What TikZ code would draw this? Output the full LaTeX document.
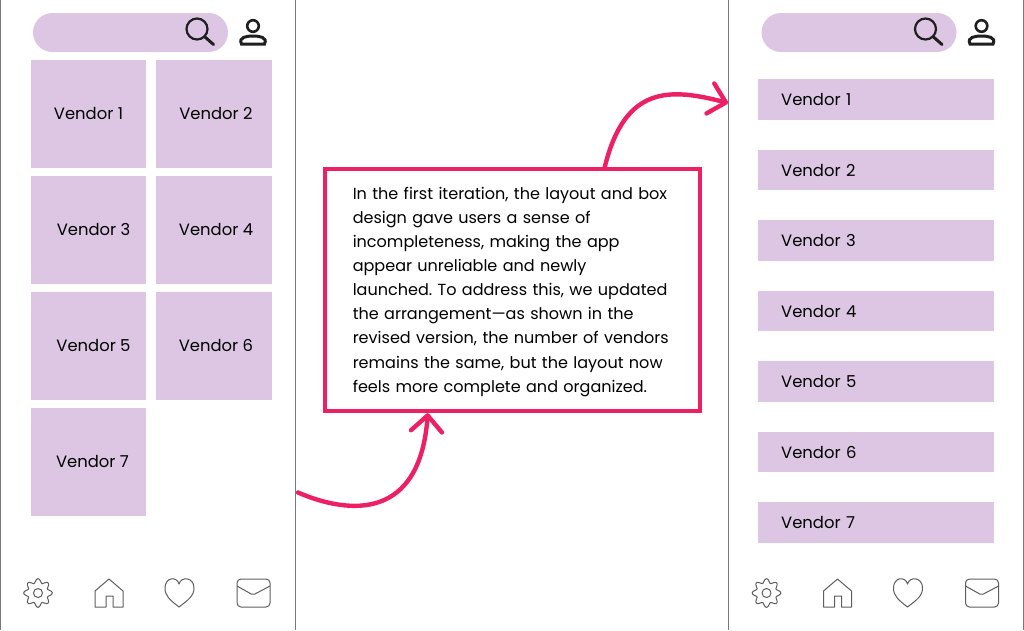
\documentclass[tikz,border=0pt]{standalone}
\usepackage{fontspec}
\setmainfont{Poppins}
\usetikzlibrary{arrows.meta}
\frenchspacing

\definecolor{lilac}{HTML}{DCC6E3}
\definecolor{hotpink}{HTML}{EE2064}
\definecolor{inkdark}{HTML}{1F1F1F}
\definecolor{framegrey}{HTML}{7A7A7A}
\definecolor{icongrey}{HTML}{5E5E5E}

\tikzset{
    tile/.style={fill=lilac, minimum width=115.5, minimum height=108, inner sep=0, font=\fontsize{16.4}{20}\selectfont},
    rowbox/.style={fill=lilac, anchor=west, minimum height=40.5, text width=190, inner xsep=23, inner ysep=0, font=\fontsize{16.4}{20}\selectfont, align=left},
    searchbar/.style={fill=lilac, rounded corners=19.5, minimum width=195, minimum height=39, inner sep=0},
    msgbox/.style={draw=hotpink, line width=4.4, inner sep=0, minimum width=375, minimum height=242},
    msgtext/.style={inner sep=0, text width=319.5, align=left, font=\fontsize{16.05}{24.15}\selectfont},
    bend arrow/.style={draw=hotpink, line width=4.4, line cap=round, -{Straight Barb[length=16, width=31, round]}},
    frameline/.style={draw=framegrey, line width=1},
    thin icon/.style={draw=icongrey, line width=1, line join=round},
    thick icon/.style={draw=inkdark, line width=2.2, line cap=round},
    pics/topicons/.style={code={
        \draw[thick icon] (197,29) circle[radius=10.5];
        \draw[thick icon, line width=3] (205,37) -- (213.5,44.5);
        \draw[thick icon, line width=2.6] (253,26) circle[radius=5.8];
        \draw[thick icon, line width=3] (241.5,44) .. controls (238,37) and (247,36) .. (253,36) .. controls (259,36) and (268,37) .. (264.5,44) -- cycle;
    }},
    pics/bottomicons/.style={code={
        \draw[thin icon] plot[domain=0:360, samples=97, smooth] ({38+(12.3+2*cos(8*\x))*cos(\x)}, {593+(12.3+2*cos(8*\x))*sin(\x)});
        \draw[thin icon] (38,593) circle[radius=4.5];
        \draw[thin icon] (95,607) -- (95,591) -- (109,579) -- (123,591) -- (123,607) -- (113,607) -- (113,596) -- (106,596) -- (106,607) -- cycle;
        \draw[thin icon] (179,607) .. controls (170,600) and (165,596) .. (165,588) .. controls (165,577) and (177,576) .. (179,584) .. controls (181,576) and (194,577) .. (194,588) .. controls (194,596) and (188,600) .. (179,607) -- cycle;
        \draw[thin icon, rounded corners=4] (237,579) rectangle (270,607);
        \draw[thin icon, rounded corners=2] (237,586) -- (253,595) -- (270,586);
    }}
}

\begin{document}
\begin{tikzpicture}[x=1pt, y=-1pt]
    \useasboundingbox (0,0) rectangle (1024,630);
    \fill[white] (0,0) rectangle (1024,630);

    % phone edges
    \draw[frameline] (0.5,0) -- (0.5,630);
    \draw[frameline] (295.5,0) -- (295.5,630);
    \draw[frameline] (728.5,0) -- (728.5,630);
    \draw[frameline] (1023.5,0) -- (1023.5,630);

    % first iteration
    \node[searchbar] (searchleft) at (130.5,32.5) {};
    \pic {topicons};
    \node[tile] (tileone) at (88.5,114) {Vendor 1};
    \node[tile] (tiletwo) at (214,114) {\hspace*{4pt}Vendor 2};
    \node[tile] (tilethree) at (88.5,230) {\hspace*{10pt}\raisebox{0.7pt}{Vendor 3}};
    \node[tile] (tilefour) at (214,230) {\hspace*{4pt}\raisebox{0.7pt}{Vendor 4}};
    \node[tile] (tilefive) at (88.5,346) {\hspace*{10pt}\raisebox{0.7pt}{Vendor 5}};
    \node[tile] (tilesix) at (214,346) {\hspace*{4pt}\raisebox{0.7pt}{Vendor 6}};
    \node[tile] (tileseven) at (88.5,462) {\hspace*{8pt}\raisebox{0.7pt}{Vendor 7}};
    \pic {bottomicons};

    % revised version
    \node[searchbar] (searchright) at (859,32.5) {};
    \pic[xshift=728.5] {topicons};
    \node[rowbox] (rowone) at (758,99.5) {\raisebox{-1pt}{Vendor 1}};
    \node[rowbox] (rowtwo) at (758,170) {\raisebox{-1pt}{Vendor 2}};
    \node[rowbox] (rowthree) at (758,240.5) {\raisebox{-1pt}{Vendor 3}};
    \node[rowbox] (rowfour) at (758,311) {\raisebox{-1pt}{Vendor 4}};
    \node[rowbox] (rowfive) at (758,381.5) {\raisebox{-1pt}{Vendor 5}};
    \node[rowbox] (rowsix) at (758,452) {\raisebox{-1pt}{Vendor 6}};
    \node[rowbox] (rowseven) at (758,522.5) {\raisebox{-1pt}{Vendor 7}};
    \pic[xshift=728.5] {bottomicons};

    % note and arrows
    \node[msgbox] (note) at (512.5,290) {};
    \node[msgtext] (notetext) at (512.5,291.7) {In the first iteration, the layout and box\\
        design gave users a sense of\\
        incompleteness, making the app\\
        appear unreliable and newly\\
        launched. To address this, we updated\\
        the arrangement—as shown in the\\
        revised version, the number of vendors\\
        remains the same, but the layout now\\
        feels more complete and organized.};
    \coordinate (leftphone) at (298,492.5);
    \coordinate (rightphone) at (728,103);
    \draw[bend arrow] (leftphone) .. controls (350,515) and (420,520) .. ([xshift=105]note.south west);
    \draw[bend arrow] ([xshift=282]note.north west) .. controls (625,85) and (670,88) .. (rightphone);
\end{tikzpicture}
\end{document}
